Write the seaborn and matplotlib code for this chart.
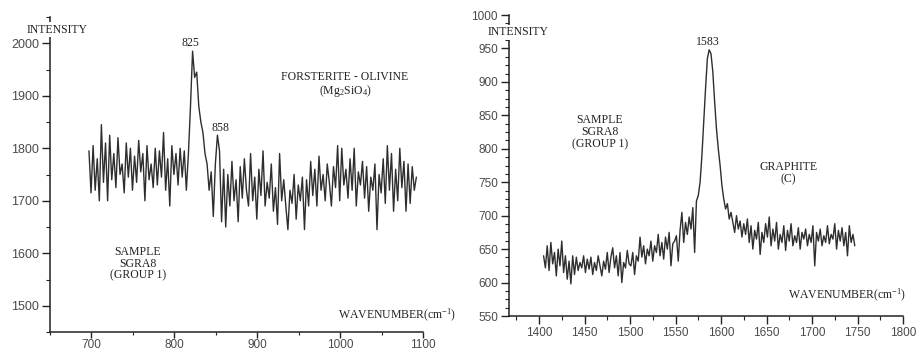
import numpy as np
import pandas as pd
import matplotlib
matplotlib.use('Agg')
import matplotlib.pyplot as plt
import seaborn as sns
from matplotlib.ticker import MultipleLocator

# forsterite spectrum, sampled every 2.5 cm-1 from 697
fo_start, fo_step = 697, 2.5
fo_intensity = [
    1795, 1715, 1805, 1720, 1780, 1700, 1845, 1735, 1810, 1700,
    1825, 1740, 1790, 1725, 1820, 1750, 1770, 1715, 1810, 1745,
    1800, 1720, 1785, 1735, 1815, 1755, 1790, 1700, 1805, 1740,
    1770, 1725, 1800, 1730, 1795, 1745, 1830, 1720, 1780, 1690,
    1805, 1750, 1790, 1730, 1800, 1745, 1795,
    1720, 1790, 1880, 1985, 1935, 1945, 1880, 1850, 1830, 1790,
    1770, 1720, 1755, 1670, 1770, 1825, 1795, 1660, 1760,
    1650, 1750, 1690, 1775, 1700, 1740, 1660, 1765, 1705, 1780,
    1720, 1690, 1790, 1700, 1745, 1665, 1760, 1710, 1795, 1690,
    1735, 1705, 1770, 1680, 1725, 1655, 1790, 1700, 1740, 1690,
    1645, 1720, 1695, 1750, 1665, 1730, 1700, 1745,
    1645, 1740, 1690, 1775, 1710, 1760, 1690, 1785, 1720, 1750,
    1700, 1770, 1735, 1690, 1765, 1725, 1805, 1700, 1800, 1730,
    1760, 1705, 1780, 1720, 1800, 1690, 1755, 1730, 1775, 1705,
    1765, 1680, 1745, 1720, 1770, 1645, 1750, 1715, 1780, 1695,
    1805, 1720, 1790, 1680, 1760, 1700, 1800, 1725, 1775, 1680,
    1770, 1695, 1765, 1720, 1745,
]

# graphite spectrum, sampled every 2 cm-1 from 1405
gr_start, gr_step = 1405, 2
gr_intensity = [
    640, 622, 655, 618, 660, 628, 645, 610, 650, 625,
    662, 615, 640, 605, 632, 598, 640, 612, 638, 618,
    630, 622, 640,
    615, 635, 620, 638, 612, 630, 618, 640, 625, 610,
    632, 620, 645, 615, 638, 652, 622, 640, 610, 645,
    600, 630, 622, 648, 628,
    625, 645, 612, 640, 632, 668, 638, 655, 628, 650,
    640, 662, 632, 655, 645, 672, 640, 660, 635, 668,
    650, 675, 625, 658, 662,
    670, 632, 678, 705, 660, 690, 672, 698, 680, 712, 645, 722,
    730, 750, 790, 840, 890, 935, 948, 942, 915, 870,
    830, 800, 775, 745, 725, 710, 718, 695, 705,
    690, 675, 700, 680, 692, 668, 688, 672, 695, 660,
    685, 650, 678, 665, 690, 642, 675, 660, 688, 668,
    698, 655, 680, 662, 690, 650, 672, 660, 685, 648,
    678, 662, 688, 655, 670, 660, 682, 650, 675, 665,
    680, 655, 672, 660, 685, 625, 675, 662, 680, 655,
    670, 660, 685, 658, 672, 665, 688, 650, 678, 662,
    682, 655, 675, 640, 685, 660, 672, 655,
]

fo = pd.DataFrame({'wavenumber': fo_start + fo_step * np.arange(len(fo_intensity)),
                   'intensity': fo_intensity})
gr = pd.DataFrame({'wavenumber': gr_start + gr_step * np.arange(len(gr_intensity)),
                   'intensity': gr_intensity})

sns.set_style('ticks')
plt.rcParams['font.family'] = ['Liberation Sans', 'DejaVu Sans']
plt.rcParams['mathtext.fontset'] = 'custom'
plt.rcParams['mathtext.rm'] = 'Liberation Serif'
plt.rcParams['mathtext.it'] = 'Liberation Serif'

ink = '#222222'
serif = dict(family=['Liberation Serif', 'DejaVu Serif'], fontsize=8.5, color=ink)
blank = dict(facecolor='white', edgecolor='none', pad=1.0)

fig = plt.figure(figsize=(9.16, 3.52), dpi=100)
ax1 = fig.add_axes([50 / 916, 20 / 352, 373 / 916, 315 / 352])
ax2 = fig.add_axes([509 / 916, 36 / 352, 394 / 916, 301 / 352])

sns.lineplot(data=fo, x='wavenumber', y='intensity', ax=ax1, estimator=None,
             color='#2e2e2e', linewidth=1.0)
sns.lineplot(data=gr, x='wavenumber', y='intensity', ax=ax2, estimator=None,
             color='#2e2e2e', linewidth=1.0)

# left panel axes
ax1.set_xlim(650, 1100)
ax1.set_ylim(1450, 2050)
ax1.set_xticks([700, 800, 900, 1000, 1100])
ax1.set_yticks([1500, 1600, 1700, 1800, 1900, 2000])
ax1.xaxis.set_minor_locator(MultipleLocator(50))
ax1.yaxis.set_minor_locator(MultipleLocator(50))

# right panel axes
ax2.set_xlim(1367, 1800)
ax2.set_ylim(550, 1000)
ax2.set_xticks(range(1400, 1801, 50))
ax2.set_yticks(range(550, 1001, 50))
ax2.xaxis.set_minor_locator(MultipleLocator(25))
ax2.yaxis.set_minor_locator(MultipleLocator(12.5))

for ax, lsize in ((ax1, 9), (ax2, 8.5)):
    sns.despine(ax=ax)
    ax.set_xlabel('')
    ax.set_ylabel('')
    for s in ('left', 'bottom'):
        ax.spines[s].set_linewidth(1.1)
        ax.spines[s].set_color('#222222')
    ax.tick_params(which='major', length=6, width=1, color='#222222',
                   labelsize=lsize, labelcolor='#4a4a4a', pad=2)
    ax.tick_params(which='minor', length=3, width=0.8, color='#222222')

# left x labels sit close to the bottom edge
ax1.tick_params(axis='x', which='major', length=4, pad=1, labelsize=8.5)
ax1.tick_params(axis='x', which='minor', length=2.5)

# left panel labels
ax1.text(0.02, 0.959, 'INTENSITY', transform=ax1.transAxes, ha='center', va='center',
         bbox=blank, zorder=5, clip_on=False, **serif)
ax1.text(820, 2000, '825', ha='center', va='center', **serif)
ax1.text(856, 1839, '858', ha='center', va='center', **serif)
ax1.text(1006, 1936, 'FORSTERITE - OLIVINE', ha='center', va='center', **serif)
ax1.text(1006, 1910, r'(Mg$_2$SiO$_4$)', ha='center', va='center', **serif)
ax1.text(756, 1580, 'SAMPLE\nSGRA8\n(GROUP 1)', ha='center', va='center',
         linespacing=1.0, **serif)
ax1.text(1069, 1482, r'WAVENUMBER(cm$^{-1}$)', ha='center', va='center',
         clip_on=False, **serif)

# right panel labels
ax2.text(0.023, 0.943, 'INTENSITY', transform=ax2.transAxes, ha='center', va='center',
         bbox=blank, zorder=5, clip_on=False, **serif)
ax2.text(1586, 960, '1583', ha='center', va='center', **serif)
ax2.text(1467, 825, 'SAMPLE\nSGRA8\n(GROUP 1)', ha='center', va='center',
         linespacing=1.0, **serif)
ax2.text(1674, 764, 'GRAPHITE\n(C)', ha='center', va='center', linespacing=1.0, **serif)
ax2.text(1739, 580, r'WAVENUMBER(cm$^{-1}$)', ha='center', va='center',
         clip_on=False, **serif)

fig.savefig('out.png', dpi=100)
